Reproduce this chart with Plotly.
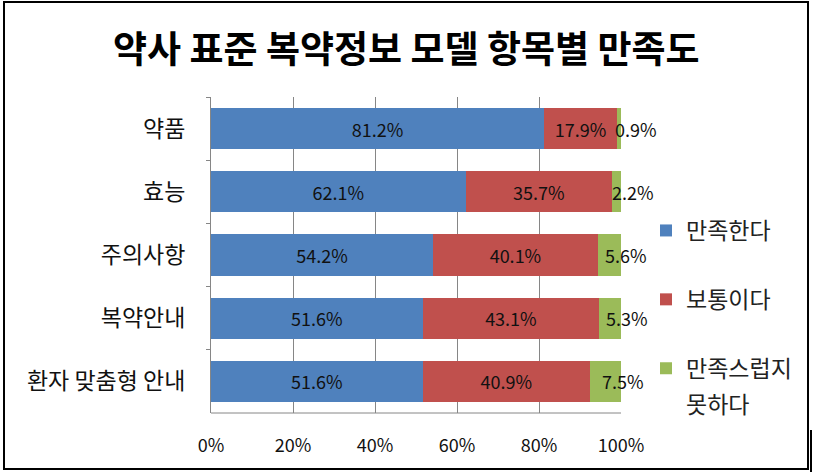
import plotly.graph_objects as go

categories = ["약품", "효능", "주의사항", "복약안내", "환자 맞춤형 안내"]
satisfied = [81.2, 62.1, 54.2, 51.6, 51.6]
neutral = [17.9, 35.7, 40.1, 43.1, 40.9]
unsatisfied = [0.9, 2.2, 5.6, 5.3, 7.5]
series_names = ["만족한다", "보통이다", "만족스럽지 못하다"]
x_ticks = [0, 20, 40, 60, 80, 100]
x_tick_labels = ["0%", "20%", "40%", "60%", "80%", "100%"]
title_text = "약사 표준 복약정보 모델 항목별 만족도"

W, H = 813, 474
L, R, T, B = 211, 192, 97, 61
PW, PH = W - L - R, H - T - B

def px_x(px):
    return (px - L) / PW

def px_y(py):
    return (H - B - py) / PH

FONT = "Noto Sans CJK KR"
colors = ["#4F81BD", "#C0504D", "#9BBB59"]

# the last legend entry wraps onto a second line in the reference
last_first, last_second = series_names[2].split(" ", 1)
legend_names = [series_names[0], series_names[1], last_first]

fig = go.Figure()
for name, vals, col, show_text in [
    (legend_names[0], satisfied, colors[0], True),
    (legend_names[1], neutral, colors[1], True),
    (legend_names[2], unsatisfied, colors[2], False),
]:
    fig.add_trace(go.Bar(
        y=categories, x=vals, orientation="h", name=name,
        legendgroup=name,
        marker=dict(color=col, line=dict(width=0)),
        text=[f"{v:.1f}%" for v in vals] if show_text else None,
        textposition="inside" if show_text else "none",
        insidetextanchor="middle", textangle=0,
        constraintext="none",
        textfont=dict(family=FONT, size=18, color="#111111"),
    ))

annotations = []
for c, a, b, g in zip(categories, satisfied, neutral, unsatisfied):
    annotations.append(dict(
        x=a + b + g / 2, y=c, xref="x", yref="y", text=f"{g:.1f}%",
        showarrow=False, xanchor="center", yanchor="middle", xshift=17,
        font=dict(family=FONT, size=18, color="#111111"),
    ))
annotations.append(dict(
    x=px_x(406), y=px_y(47), xref="paper", yref="paper", text=f"<b>{title_text}</b>",
    showarrow=False, xanchor="center", yanchor="middle",
    font=dict(family=FONT, size=37, color="#000000"),
))
annotations.append(dict(
    x=px_x(684), y=px_y(403), xref="paper", yref="paper", text=last_second,
    showarrow=False, xanchor="left", yanchor="middle",
    font=dict(family=FONT, size=23, color="#222222"),
))

shapes = [
    dict(type="rect", xref="paper", yref="paper",
         x0=px_x(4), x1=px_x(808), y0=px_y(469), y1=px_y(2),
         line=dict(color="#000000", width=2), fillcolor="rgba(0,0,0,0)", layer="above"),
    dict(type="line", xref="paper", yref="paper",
         x0=px_x(811), x1=px_x(811), y0=px_y(472), y1=px_y(430),
         line=dict(color="#000000", width=2)),
    dict(type="line", xref="paper", yref="paper",
         x0=0, x1=1, y0=0, y1=0, line=dict(color="#868686", width=1), layer="above"),
]

fig.update_layout(
    width=W, height=H,
    margin=dict(l=L, r=R, t=T, b=B, pad=0),
    barmode="stack", bargap=0.35,
    paper_bgcolor="white", plot_bgcolor="white",
    font=dict(family=FONT, color="#111111"),
    showlegend=True,
    legend=dict(
        x=px_x(646), y=px_y(209), xanchor="left", yanchor="top",
        font=dict(family=FONT, size=23, color="#222222"),
        tracegroupgap=36, valign="middle", itemwidth=30,
        bgcolor="rgba(0,0,0,0)",
        traceorder="grouped",
    ),
    annotations=annotations,
    shapes=shapes,
)
fig.update_xaxes(
    range=[0, 100], tickvals=x_ticks, ticktext=x_tick_labels,
    showgrid=True, gridcolor="#868686", gridwidth=1,
    zeroline=False, showline=False,
    tickfont=dict(family=FONT, size=18, color="#111111"),
    ticks="", ticklabelstandoff=20, fixedrange=True,
)
fig.update_yaxes(
    categoryorder="array", categoryarray=categories, autorange="reversed",
    showgrid=False, zeroline=False, showline=True, linecolor="#868686", linewidth=1,
    ticks="outside", ticklen=4, tickcolor="#868686", tickson="boundaries",
    tickfont=dict(family=FONT, size=23, color="#111111"),
    ticklabelstandoff=20,
)

fig.write_html("out.html")
